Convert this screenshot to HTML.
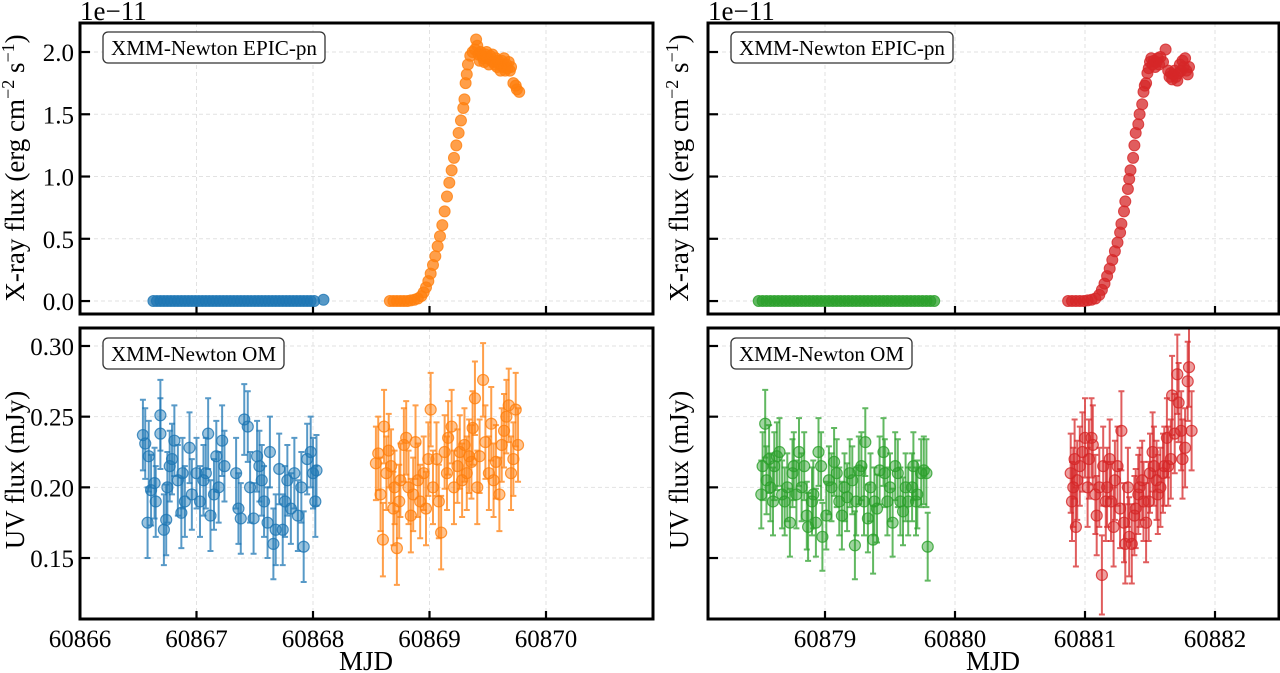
<!DOCTYPE html>
<html><head><meta charset="utf-8">
<style>
html,body{margin:0;padding:0;background:#fff;}
svg{display:block;font-family:"Liberation Serif",serif;}
</style></head>
<body>
<svg id="fig" width="1280" height="673" viewBox="0 0 1280 673"></svg>
<script>
// ---- data ----
const blueXrayT = [60866.63,60866.66,60866.69,60866.72,60866.75,60866.78,60866.81,60866.84,60866.87,60866.90,60866.93,60866.96,60866.99,60867.02,60867.05,60867.08,60867.11,60867.14,60867.17,60867.20,60867.23,60867.26,60867.29,60867.32,60867.35,60867.38,60867.41,60867.44,60867.47,60867.50,60867.53,60867.56,60867.59,60867.62,60867.65,60867.68,60867.71,60867.74,60867.77,60867.80,60867.83,60867.86,60867.89,60867.92,60867.95,60867.98,60868.01,60868.09];
const blueXrayF = [0,0,0,0,0,0,0,0,0,0,0,0,0,0,0,0,0,0,0,0,0,0,0,0,0,0,0,0,0,0,0,0,0,0,0,0,0,0,0,0,0,0,0,0,0,0,0,0.01];
const orangeXrayT = [60868.66,60868.69,60868.72,60868.75,60868.78,60868.81,60868.84,60868.87,60868.90,60868.93,60868.95,60868.97,60868.99,60869.01,60869.03,60869.05,60869.07,60869.09,60869.11,60869.13,60869.15,60869.17,60869.19,60869.21,60869.23,60869.25,60869.27,60869.29,60869.30,60869.31,60869.32,60869.33,60869.35,60869.37,60869.39,60869.40,60869.41,60869.42,60869.43,60869.44,60869.45,60869.46,60869.47,60869.48,60869.49,60869.50,60869.51,60869.52,60869.53,60869.54,60869.55,60869.56,60869.57,60869.58,60869.59,60869.60,60869.61,60869.62,60869.63,60869.64,60869.65,60869.66,60869.67,60869.68,60869.69,60869.70,60869.72,60869.74,60869.75,60869.77];
const orangeXrayF = [0,0,0,0,0,0,0.005,0.01,0.02,0.04,0.07,0.11,0.16,0.22,0.29,0.36,0.44,0.52,0.61,0.72,0.84,0.95,1.05,1.15,1.25,1.35,1.45,1.55,1.62,1.75,1.82,1.9,1.97,2.0,2.02,2.1,2.05,1.98,1.93,2.0,1.97,1.95,1.92,1.98,2.0,1.95,1.9,1.97,1.93,1.98,1.92,1.9,1.95,1.88,1.93,1.9,1.85,1.93,1.88,1.95,1.85,1.9,1.87,1.92,1.85,1.88,1.75,1.73,1.7,1.68];
const greenXrayT = [60878.49,60878.52,60878.55,60878.58,60878.61,60878.64,60878.67,60878.70,60878.73,60878.76,60878.79,60878.82,60878.85,60878.88,60878.91,60878.94,60878.97,60879.00,60879.03,60879.06,60879.09,60879.12,60879.15,60879.18,60879.21,60879.24,60879.27,60879.30,60879.33,60879.36,60879.39,60879.42,60879.45,60879.48,60879.51,60879.54,60879.57,60879.60,60879.63,60879.66,60879.69,60879.72,60879.75,60879.78,60879.81,60879.84];
const greenXrayF = [0,0,0,0,0,0,0,0,0,0,0,0,0,0,0,0,0,0,0,0,0,0,0,0,0,0,0,0,0,0,0,0,0,0,0,0,0,0,0,0,0,0,0,0,0,0];
const redXrayT = [60880.87,60880.90,60880.93,60880.96,60880.99,60881.02,60881.05,60881.08,60881.11,60881.13,60881.15,60881.17,60881.19,60881.21,60881.23,60881.25,60881.27,60881.28,60881.30,60881.31,60881.33,60881.34,60881.35,60881.37,60881.38,60881.39,60881.41,60881.42,60881.44,60881.45,60881.46,60881.47,60881.48,60881.49,60881.50,60881.51,60881.52,60881.53,60881.54,60881.55,60881.56,60881.57,60881.58,60881.60,60881.62,60881.64,60881.65,60881.66,60881.67,60881.68,60881.69,60881.70,60881.71,60881.72,60881.73,60881.74,60881.75,60881.76,60881.77,60881.78,60881.79,60881.80];
const redXrayF = [0,0,0,0,0,0.005,0.01,0.02,0.05,0.09,0.14,0.2,0.26,0.33,0.4,0.47,0.55,0.62,0.72,0.8,0.9,0.98,1.05,1.15,1.25,1.35,1.42,1.5,1.58,1.68,1.73,1.75,1.83,1.87,1.92,1.95,1.9,1.93,1.88,1.92,1.95,1.9,1.96,1.92,2.02,1.85,1.8,1.83,1.78,1.82,1.85,1.8,1.77,1.83,1.9,1.85,1.93,1.88,1.95,1.85,1.82,1.88];

const blueUvT = [60866.54,60866.56,60866.58,60866.59,60866.61,60866.64,60866.65,60866.69,60866.69,60866.72,60866.74,60866.75,60866.77,60866.79,60866.81,60866.84,60866.87,60866.88,60866.90,60866.94,60866.96,60867.00,60867.03,60867.06,60867.08,60867.10,60867.12,60867.15,60867.17,60867.19,60867.22,60867.24,60867.34,60867.36,60867.38,60867.41,60867.44,60867.46,60867.49,60867.52,60867.54,60867.56,60867.58,60867.61,60867.63,60867.66,60867.68,60867.71,60867.74,60867.76,60867.78,60867.81,60867.84,60867.87,60867.90,60867.92,60867.95,60867.98,60868.00,60868.02,60868.03];
const blueUvF = [0.237,0.231,0.175,0.222,0.198,0.203,0.19,0.251,0.238,0.17,0.177,0.2,0.215,0.22,0.233,0.205,0.182,0.21,0.19,0.228,0.195,0.21,0.19,0.205,0.21,0.238,0.18,0.195,0.222,0.2,0.233,0.215,0.21,0.185,0.178,0.248,0.243,0.2,0.178,0.222,0.215,0.205,0.19,0.175,0.225,0.16,0.17,0.213,0.17,0.19,0.205,0.185,0.21,0.18,0.2,0.158,0.22,0.225,0.21,0.19,0.212];
const orangeUvT = [60868.54,60868.56,60868.58,60868.60,60868.61,60868.63,60868.65,60868.67,60868.69,60868.70,60868.72,60868.74,60868.75,60868.78,60868.80,60868.82,60868.84,60868.86,60868.88,60868.90,60868.92,60868.95,60868.97,60868.99,60869.01,60869.03,60869.06,60869.08,60869.10,60869.13,60869.15,60869.16,60869.19,60869.21,60869.24,60869.26,60869.28,60869.30,60869.32,60869.34,60869.36,60869.37,60869.39,60869.41,60869.43,60869.46,60869.48,60869.51,60869.53,60869.55,60869.57,60869.60,60869.62,60869.64,60869.66,60869.68,60869.70,60869.72,60869.74,60869.76];
const orangeUvF = [0.217,0.224,0.195,0.163,0.243,0.21,0.226,0.215,0.185,0.2,0.157,0.19,0.205,0.23,0.235,0.2,0.18,0.195,0.232,0.205,0.19,0.21,0.185,0.22,0.255,0.2,0.22,0.19,0.168,0.225,0.21,0.235,0.243,0.2,0.215,0.225,0.205,0.23,0.21,0.222,0.218,0.242,0.263,0.2,0.222,0.276,0.232,0.21,0.245,0.205,0.218,0.195,0.23,0.24,0.25,0.258,0.21,0.22,0.255,0.23];
const greenUvT = [60878.51,60878.52,60878.54,60878.55,60878.57,60878.58,60878.60,60878.61,60878.63,60878.65,60878.67,60878.69,60878.71,60878.73,60878.75,60878.76,60878.78,60878.80,60878.82,60878.84,60878.86,60878.87,60878.90,60878.91,60878.93,60878.95,60878.97,60878.98,60879.01,60879.03,60879.05,60879.07,60879.09,60879.11,60879.13,60879.15,60879.17,60879.19,60879.21,60879.23,60879.24,60879.26,60879.28,60879.30,60879.31,60879.33,60879.35,60879.37,60879.38,60879.40,60879.42,60879.45,60879.46,60879.48,60879.50,60879.52,60879.54,60879.56,60879.58,60879.60,60879.62,60879.64,60879.67,60879.68,60879.70,60879.71,60879.74,60879.76,60879.78,60879.79];
const greenUvF = [0.195,0.215,0.245,0.205,0.22,0.2,0.19,0.215,0.222,0.225,0.195,0.19,0.2,0.175,0.21,0.215,0.195,0.225,0.2,0.215,0.18,0.172,0.19,0.195,0.175,0.225,0.215,0.165,0.18,0.205,0.2,0.218,0.21,0.19,0.18,0.2,0.193,0.21,0.205,0.159,0.19,0.212,0.215,0.19,0.232,0.178,0.2,0.163,0.19,0.185,0.212,0.225,0.21,0.19,0.2,0.175,0.215,0.21,0.19,0.183,0.2,0.19,0.2,0.215,0.19,0.195,0.21,0.212,0.21,0.158];
const redUvT = [60880.89,60880.90,60880.91,60880.92,60880.93,60880.94,60880.96,60880.98,60881.00,60881.02,60881.03,60881.05,60881.06,60881.08,60881.09,60881.11,60881.13,60881.14,60881.16,60881.17,60881.19,60881.20,60881.22,60881.23,60881.25,60881.27,60881.28,60881.30,60881.31,60881.33,60881.34,60881.36,60881.38,60881.39,60881.41,60881.42,60881.44,60881.45,60881.47,60881.49,60881.50,60881.52,60881.53,60881.55,60881.56,60881.58,60881.60,60881.61,60881.63,60881.64,60881.66,60881.67,60881.69,60881.71,60881.72,60881.74,60881.75,60881.77,60881.79,60881.80,60881.82];
const redUvF = [0.21,0.19,0.2,0.22,0.172,0.205,0.215,0.225,0.235,0.2,0.22,0.235,0.23,0.195,0.18,0.2,0.138,0.215,0.19,0.2,0.22,0.19,0.172,0.205,0.215,0.185,0.24,0.175,0.16,0.2,0.165,0.16,0.18,0.185,0.195,0.2,0.205,0.19,0.175,0.19,0.21,0.225,0.215,0.205,0.195,0.2,0.21,0.215,0.235,0.215,0.22,0.265,0.238,0.28,0.26,0.24,0.22,0.228,0.275,0.285,0.24];
const uvErrBlue = 0.025, uvErrOrange = 0.026, uvErrGreen = 0.024, uvErrRed = 0.028;

const xTicksLeft = [60866,60867,60868,60869,60870];
const xTicksRight = [60879,60880,60881,60882];
const xrayTicks = [0.0,0.5,1.0,1.5,2.0];
const xrayTickLabels = ["0.0","0.5","1.0","1.5","2.0"];
const uvTicks = [0.15,0.20,0.25,0.30];
const uvTickLabels = ["0.15","0.20","0.25","0.30"];

// ---- layout ----
const NS = "http://www.w3.org/2000/svg";
const svg = document.getElementById('fig');
function el(tag, attrs, parent){ const e=document.createElementNS(NS,tag); for(const k in attrs) e.setAttribute(k,attrs[k]); (parent||svg).appendChild(e); return e; }
function lin(d0,d1,r0,r1){ return v => r0 + (v-d0)/(d1-d0)*(r1-r0); }

const L = {x0:80, x1:653, xd0:60866, xd1:60866+573/116.5};
const R = {x0:708, x1:1279, xd0:60879-117/130, xd1:60879+454/130};
const TOP = {y0:23, y1:314, v0:-0.104, v1:(301-23)/124.5};
const BOT = {y0:328, y1:619, v0:0.15-61/1414, v1:0.30+18/1414};

function panel(name, H, V, xticks, yticks, ylabels, showXLabels){
  const g = el('g', {});
  
  
  const sx = lin(H.xd0,H.xd1,H.x0,H.x1);
  const sy = lin(V.v0,V.v1,V.y1,V.y0);
  xticks.forEach(t=>{ const x=sx(t); if(x>H.x0+2&&x<H.x1-2){ const ln=el('line',{x1:x,x2:x,y1:V.y0,y2:V.y1,stroke:'#e2e2e2','stroke-width':1,'stroke-dasharray':'4,3'},g);  }});
  yticks.forEach(t=>{ const y=sy(t); const ln=el('line',{x1:H.x0,x2:H.x1,y1:y,y2:y,stroke:'#e2e2e2','stroke-width':1,'stroke-dasharray':'4,3'},g);  });
  xticks.forEach(t=>{ const x=sx(t); const tk=el('line',{x1:x,x2:x,y1:V.y1,y2:V.y1-8,stroke:'#000','stroke-width':2.2},g);  
    if(showXLabels){ const tx=el('text',{x:x,y:V.y1+28,'font-size':25,'text-anchor':'middle',fill:'#000'},g); tx.textContent=String(t);   }});
  yticks.forEach((t,i)=>{ const y=sy(t); const tk=el('line',{x1:H.x0,x2:H.x0+10,y1:y,y2:y,stroke:'#000','stroke-width':2.2},g);  
    if(ylabels){ const tx=el('text',{x:H.x0-6,y:y+9,'font-size':25,'text-anchor':'end',fill:'#000'},g); tx.textContent=ylabels[i];   }});
  return {g,sx,sy};
}
function frame(g,H,V){ const r=el('rect',{x:H.x0,y:V.y0,width:H.x1-H.x0,height:V.y1-V.y0,fill:'none',stroke:'#000','stroke-width':3},g);   }
function scatter(p, ts, fs, color, name){
  const g=el('g',{},p.g);  
  ts.forEach((t,i)=>{ const c=el('circle',{cx:p.sx(t),cy:p.sy(fs[i]),r:5.5,fill:color,'fill-opacity':0.75,stroke:color,'stroke-opacity':0.8,'stroke-width':1},g);
      });
}
function errbar(p, ts, fs, err, color, name){
  const g=el('g',{},p.g);  
  ts.forEach((t,i)=>{ const x=p.sx(t), y=p.sy(fs[i]), ya=p.sy(fs[i]+err), yb=p.sy(fs[i]-err);
    const b=el('path',{d:`M${x},${ya}V${yb}M${x-3},${ya}H${x+3}M${x-3},${yb}H${x+3}`,stroke:color,'stroke-width':2,'stroke-opacity':0.75,fill:'none'},g);
     
    const c=el('circle',{cx:x,cy:y,r:5.5,fill:color,'fill-opacity':0.45,stroke:color,'stroke-opacity':0.8,'stroke-width':1.2},g);
      });
}
function label(g,x,y,w,text,name){
  const r=el('rect',{x:x,y:y,width:w,height:31,rx:5,fill:'#fff',stroke:'#333','stroke-width':1.3},g);  
  const t=el('text',{x:x+w/2,y:y+23,'font-size':21,'text-anchor':'middle',fill:'#000',textLength:w-16,lengthAdjust:'spacingAndGlyphs'},g); t.textContent=text;  
}
function ylabel(x,yc,html,name){
  const t=el('text',{x:0,y:0,'font-size':27,'text-anchor':'middle',transform:`translate(${x},${yc}) rotate(-90)`,fill:'#000'});
  t.innerHTML=html;  
}
function txt(x,y,s,anchor,size,name){ const t=el('text',{x:x,y:y,'font-size':size,'text-anchor':anchor,fill:'#000'}); t.textContent=s;   }

const pTL = panel('xray-panel-left', L, TOP, xTicksLeft, xrayTicks, xrayTickLabels, false);
scatter(pTL, blueXrayT, blueXrayF, '#1f77b4', 'xray-series-blue');
scatter(pTL, orangeXrayT, orangeXrayF, '#ff7f0e', 'xray-series-orange');
label(pTL.g, 103, 32, 222, 'XMM-Newton EPIC-pn', 'xray-instrument-label');
frame(pTL.g, L, TOP);
const pBL = panel('uv-panel-left', L, BOT, xTicksLeft, uvTicks, uvTickLabels, true);
errbar(pBL, blueUvT, blueUvF, uvErrBlue, '#1f77b4', 'uv-series-blue');
errbar(pBL, orangeUvT, orangeUvF, uvErrOrange, '#ff7f0e', 'uv-series-orange');
label(pBL.g, 103, 338, 181, 'XMM-Newton OM', 'uv-instrument-label');
frame(pBL.g, L, BOT);
const pTR = panel('xray-panel-right', R, TOP, xTicksRight, xrayTicks, null, false);
scatter(pTR, greenXrayT, greenXrayF, '#2ca02c', 'xray-series-green');
scatter(pTR, redXrayT, redXrayF, '#d62728', 'xray-series-red');
label(pTR.g, 731, 32, 222, 'XMM-Newton EPIC-pn', 'xray-instrument-label-right');
frame(pTR.g, R, TOP);
const pBR = panel('uv-panel-right', R, BOT, xTicksRight, uvTicks, null, true);
errbar(pBR, greenUvT, greenUvF, uvErrGreen, '#2ca02c', 'uv-series-green');
errbar(pBR, redUvT, redUvF, uvErrRed, '#d62728', 'uv-series-red');
label(pBR.g, 731, 338, 181, 'XMM-Newton OM', 'uv-instrument-label-right');
frame(pBR.g, R, BOT);

txt(80, 20, '1e\u221211', 'start', 27, 'offset-text-left');
txt(708, 20, '1e\u221211', 'start', 27, 'offset-text-right');
ylabel(24, 168, 'X-ray flux (erg cm<tspan dy="-10" font-size="18">\u22122</tspan><tspan dy="10"> s</tspan><tspan dy="-10" font-size="18">\u22121</tspan><tspan dy="10">)</tspan>', 'y-axis-title-xray-left');
ylabel(24, 470, 'UV flux (mJy)', 'y-axis-title-uv-left');
ylabel(688, 168, 'X-ray flux (erg cm<tspan dy="-10" font-size="18">\u22122</tspan><tspan dy="10"> s</tspan><tspan dy="-10" font-size="18">\u22121</tspan><tspan dy="10">)</tspan>', 'y-axis-title-xray-right');
ylabel(688, 470, 'UV flux (mJy)', 'y-axis-title-uv-right');
txt(366, 670, 'MJD', 'middle', 27, 'x-axis-title-left');
txt(993, 670, 'MJD', 'middle', 27, 'x-axis-title-right');
</script>
</body></html>
